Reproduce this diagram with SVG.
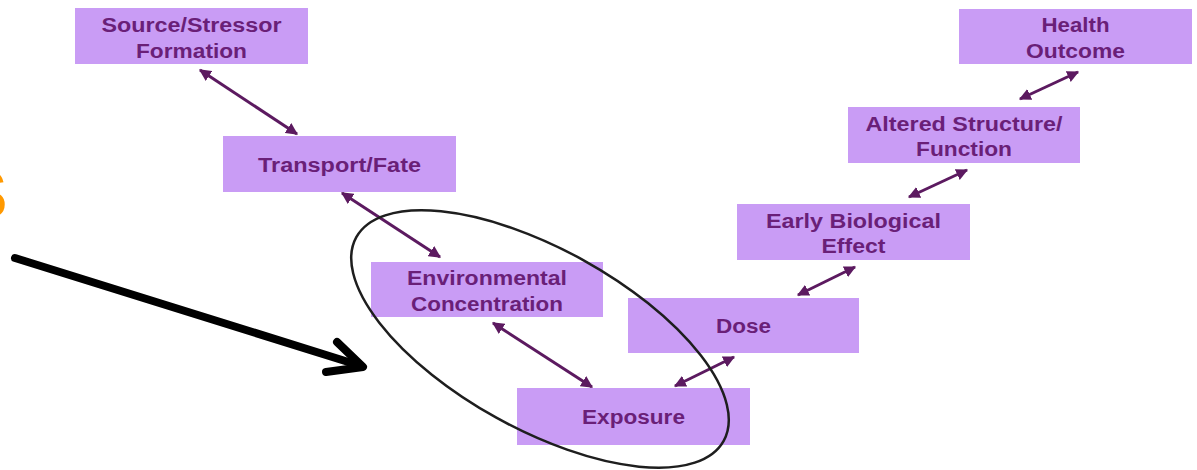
<svg xmlns="http://www.w3.org/2000/svg" width="1197" height="470" viewBox="0 0 1197 470">
<style>
.box{fill:#c99cf5;}
.lbl{font-family:"Liberation Sans",Arial,sans-serif;font-weight:bold;font-size:20px;fill:#6a1f78;text-anchor:middle;}
.con{stroke:#5c1a60;stroke-width:3;fill:none;marker-start:url(#ah);marker-end:url(#ah);}
</style>
<defs>
<marker id="ah" viewBox="0 0 10 10" refX="9" refY="5" markerWidth="4" markerHeight="4" orient="auto-start-reverse" markerUnits="strokeWidth">
<path d="M0,0 L10,5 L0,10 Z" fill="#5c1a60"/>
</marker>
</defs>
<rect width="1197" height="470" fill="#ffffff"/>
<text x="-38" y="218" font-family="Liberation Sans,Arial,sans-serif" font-weight="bold" font-size="68" fill="#ff9900">S</text>
<g id="connectors">
<line class="con" x1="200" y1="70" x2="297" y2="134"/>
<line class="con" x1="342" y1="193" x2="440" y2="257"/>
<line class="con" x1="493" y1="323" x2="592" y2="387"/>
<line class="con" x1="675" y1="386" x2="734" y2="357"/>
<line class="con" x1="798" y1="295" x2="855" y2="267"/>
<line class="con" x1="909" y1="197" x2="967" y2="170"/>
<line class="con" x1="1020" y1="99" x2="1078" y2="72"/>
</g>
<g id="n-source"><rect class="box" x="75" y="8" width="233" height="56"/>
<text class="lbl" x="191.5" y="32" textLength="180" lengthAdjust="spacingAndGlyphs">Source/Stressor</text>
<text class="lbl" x="191.5" y="58" textLength="111" lengthAdjust="spacingAndGlyphs">Formation</text></g>
<g id="n-transport"><rect class="box" x="223" y="136" width="233" height="56"/>
<text class="lbl" x="339.5" y="172" textLength="163" lengthAdjust="spacingAndGlyphs">Transport/Fate</text></g>
<g id="n-env"><rect class="box" x="371" y="262" width="232" height="55"/>
<text class="lbl" x="487" y="285" textLength="160" lengthAdjust="spacingAndGlyphs">Environmental</text>
<text class="lbl" x="487" y="311" textLength="152" lengthAdjust="spacingAndGlyphs">Concentration</text></g>
<g id="n-exposure"><rect class="box" x="517" y="388" width="233" height="57"/>
<text class="lbl" x="633.5" y="424" textLength="103" lengthAdjust="spacingAndGlyphs">Exposure</text></g>
<g id="n-dose"><rect class="box" x="628" y="298" width="231" height="55"/>
<text class="lbl" x="743.5" y="333" textLength="55" lengthAdjust="spacingAndGlyphs">Dose</text></g>
<g id="n-early"><rect class="box" x="737" y="204" width="233" height="56"/>
<text class="lbl" x="853.5" y="228" textLength="175" lengthAdjust="spacingAndGlyphs">Early Biological</text>
<text class="lbl" x="853.5" y="253" textLength="64" lengthAdjust="spacingAndGlyphs">Effect</text></g>
<g id="n-altered"><rect class="box" x="848" y="107" width="232" height="56"/>
<text class="lbl" x="964" y="131" textLength="197" lengthAdjust="spacingAndGlyphs">Altered Structure/</text>
<text class="lbl" x="964" y="156" textLength="96" lengthAdjust="spacingAndGlyphs">Function</text></g>
<g id="n-health"><rect class="box" x="959" y="9" width="233" height="55"/>
<text class="lbl" x="1075.5" y="32" textLength="68" lengthAdjust="spacingAndGlyphs">Health</text>
<text class="lbl" x="1075.5" y="58" textLength="99" lengthAdjust="spacingAndGlyphs">Outcome</text></g>
<ellipse cx="540" cy="339" rx="210" ry="90" transform="rotate(29 540 339)" fill="none" stroke="#1e1e1e" stroke-width="2.5"/>
<g fill="none" stroke="#000" stroke-width="8" stroke-linecap="round" stroke-linejoin="round">
<line x1="15" y1="258" x2="358" y2="365"/>
<polyline points="337,342 363,367 326,372"/>
</g>
</svg>
